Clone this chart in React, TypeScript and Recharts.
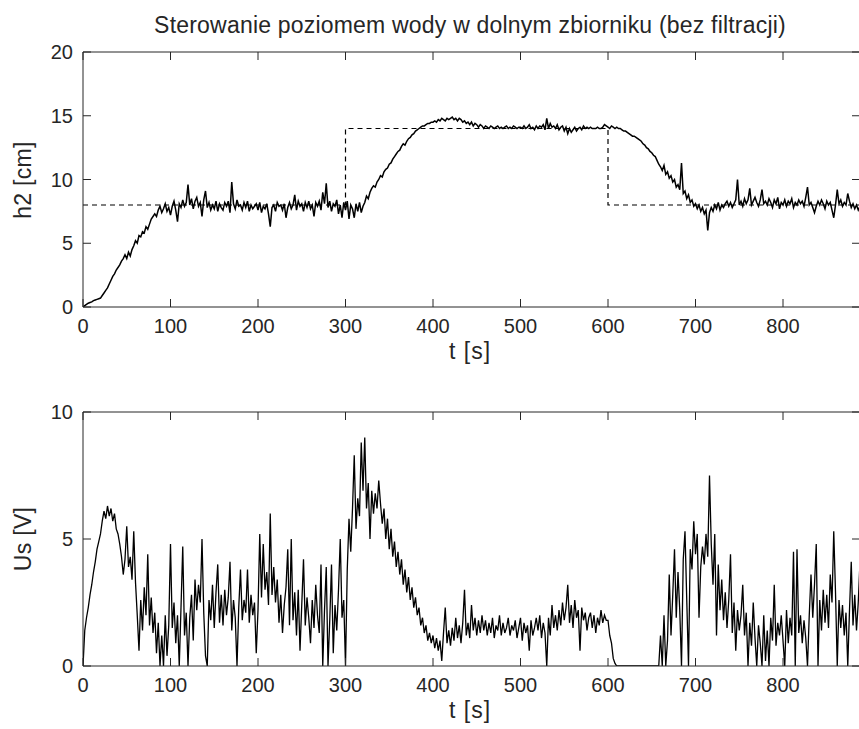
import { LineChart, Line, XAxis, YAxis } from "recharts";

// sampling period of the logged signals [s]
const T_STEP = 2;
const T_MAX = 888;

// water level h2 [cm], one value every 2 s
const h2Values = [
  0, 0.1, 0.2, 0.3, 0.35, 0.4, 0.5, 0.55, 0.6, 0.65,
  0.7, 0.9, 1.1, 1.3, 1.5, 1.8, 2.1, 2.4, 2.6, 2.9,
  3.1, 3.3, 3.6, 3.8, 4.1, 3.8, 4.3, 4.0, 4.5, 4.8,
  5.2, 5.0, 5.6, 5.5, 5.9, 5.8, 6.3, 6.1, 6.5, 6.9,
  7.1, 7.3, 7.1, 7.6, 7.9, 7.4, 7.7, 8.1, 7.5, 7.8,
  7.2, 7.9, 8.3, 7.6, 6.7, 8.1, 7.8, 8.4, 7.9, 8.2,
  9.6, 8.0, 8.5, 7.7, 8.3, 8.6, 7.9, 8.2, 7.1, 8.4,
  9.1, 7.8, 8.2, 7.6, 8.0, 7.7, 8.3, 7.5, 8.1, 7.8,
  7.6, 8.2, 7.9, 8.3, 7.4, 9.8, 8.1, 7.7, 8.4, 7.9,
  8.0, 7.6, 8.2, 7.8, 8.3, 7.5, 8.0, 7.7, 7.9, 8.1,
  7.6, 8.2, 7.4, 7.9, 7.7, 8.1, 7.3, 6.3, 7.8, 8.0,
  7.5, 8.2, 7.9, 8.0, 7.6, 8.1, 7.0, 7.8, 8.2, 7.7,
  8.0, 8.8, 7.6, 8.3, 7.9, 8.1, 7.5, 8.2, 7.8, 8.3,
  7.7, 8.0, 7.1, 8.2, 7.9, 8.3, 7.6, 9.0, 8.1, 9.7,
  7.8, 8.3, 7.5, 8.1, 7.9, 8.4, 7.3, 8.0, 7.0, 8.2,
  7.6, 8.3, 6.9, 8.0, 7.7, 7.0, 8.1, 7.5, 8.2, 7.4,
  7.9, 8.2, 8.7, 8.5, 9.0, 9.3, 9.5, 9.4, 9.8, 10.0,
  10.3, 10.2, 10.6, 10.8, 10.9, 11.2, 11.3, 11.6, 11.8, 12.0,
  12.2, 12.3, 12.6, 12.8, 12.7, 13.0, 13.2, 13.3, 13.5, 13.6,
  13.8, 13.9, 14.0, 14.1, 14.2, 14.2, 14.3, 14.4, 14.4, 14.5,
  14.5, 14.6, 14.5, 14.7, 14.6, 14.8, 14.7, 14.6, 14.8, 14.7,
  14.8, 14.9, 14.7, 14.8, 14.6, 14.8, 14.7, 14.5, 14.6, 14.4,
  14.5, 14.3, 14.5, 14.2, 14.4, 14.3, 14.1, 14.3, 14.2, 14.0,
  14.2, 14.1, 14.0, 14.2, 14.1, 14.0, 14.1, 14.2, 14.0, 14.1,
  14.0, 14.1, 14.2, 14.0, 14.1, 14.0, 14.2, 14.1, 14.0, 14.1,
  14.1, 14.0, 14.2, 14.0, 14.1, 14.3, 14.0, 14.1, 13.9, 14.2,
  14.0, 14.2, 14.1, 14.3, 13.9, 14.8, 14.0, 14.4, 14.1, 14.2,
  14.0, 14.3, 13.9, 14.1, 14.2, 13.8, 14.1, 13.6, 14.0, 13.7,
  13.9, 14.1, 13.8, 14.0, 14.1, 13.9, 14.2, 14.0, 14.1, 14.0,
  14.1, 14.0, 14.0, 14.0, 14.1, 14.0, 14.0, 14.1, 14.3, 14.2,
  14.1, 14.0, 14.2, 14.1, 14.0, 14.1, 14.0, 14.0, 13.9, 13.8,
  13.8, 13.7, 13.6, 13.5, 13.4, 13.4, 13.3, 13.2, 13.1, 13.0,
  12.8, 12.7, 12.5, 12.4, 12.2, 12.1, 11.9, 11.8, 11.5, 11.2,
  11.0, 10.7, 11.1, 10.4, 10.6, 10.1, 10.3, 9.8, 10.0, 9.4,
  9.6, 9.2, 11.3, 8.9, 9.1, 8.5, 8.8, 8.2, 8.4, 7.9,
  8.1, 7.7, 8.0, 7.5, 7.8, 7.3, 7.6, 6.0, 7.4, 7.8,
  7.5, 8.0, 7.7, 8.2, 7.6, 8.0, 7.8, 8.1, 8.3, 7.9,
  8.2, 7.8, 8.1, 8.4, 10.0, 8.0, 8.3, 7.9, 8.5, 8.1,
  8.4, 9.3, 8.0, 8.3, 8.6, 8.2, 7.9, 8.4, 9.2, 8.1,
  8.3, 8.0, 8.5, 8.2, 7.8, 8.4, 8.1, 8.6, 7.7, 8.2,
  8.0, 8.4, 7.9, 8.3, 8.1, 8.5, 7.8, 8.2, 8.0, 8.4,
  8.1, 8.3, 7.9, 8.6, 9.4, 8.0, 8.2, 7.8, 7.4, 7.9,
  8.3, 8.0, 8.4, 8.1, 7.7, 8.3, 8.0, 8.2, 7.6, 7.0,
  8.0, 9.2, 8.1, 8.4, 7.9, 8.2, 8.0, 8.9, 8.3, 7.8,
  8.1, 7.7, 8.0, 7.6, 7.9,
];

// control voltage Us [V], one value every 2 s
const usValues = [
  0, 1.4, 1.9, 2.3, 2.8, 3.2, 3.7, 4.1, 4.6, 4.9,
  5.2, 5.7, 6.1, 5.8, 6.3, 5.9, 6.2, 5.7, 6.0, 5.4,
  5.2, 4.8, 4.3, 3.6, 4.2, 5.5, 3.9, 4.3, 3.4, 5.3,
  3.3, 2.0, 0.6, 2.6, 1.4, 3.1, 2.0, 4.4, 1.6, 2.7,
  1.3, 2.1, 0.5, 1.7, 0, 1.2, 0, 2.0, 0.4, 1.6,
  4.8, 1.5, 2.5, 0.9, 2.0, 0, 2.3, 4.7, 1.2, 2.1,
  0, 1.9, 2.8, 1.0, 3.4, 2.2, 3.2, 2.5, 5.0, 2.1,
  0.4, 0, 2.6, 1.8, 3.2, 1.5, 2.9, 4.0, 1.7, 2.8,
  1.6, 3.0, 2.0, 2.7, 4.1, 1.4, 2.6, 1.9, 0, 2.3,
  3.8, 1.8, 2.6, 2.1, 3.8, 1.7, 2.8, 2.0, 2.5, 0.5,
  2.2, 5.2, 2.7, 4.8, 3.0, 3.7, 2.4, 6.0, 2.8, 3.9,
  2.5, 3.4, 1.7, 2.8, 1.3, 2.4, 3.1, 4.6, 1.6, 5.0,
  1.8, 2.9, 1.2, 3.0, 0.6, 2.4, 4.2, 1.6, 2.7, 1.9,
  0.9, 2.6, 1.5, 3.2, 2.0, 1.3, 4.0, 0, 2.2, 3.9,
  0, 1.8, 4.0, 0.5, 2.4, 1.4, 3.0, 5.0, 1.9, 2.6,
  0, 3.8, 5.8, 4.5, 6.2, 8.3, 5.4, 6.6, 5.9, 8.8,
  6.9, 9.0, 6.2, 7.2, 5.0, 6.9, 6.0, 6.8, 6.2, 7.3,
  6.4, 5.6, 6.2, 5.0, 5.8, 4.6, 5.4, 4.3, 4.9, 3.9,
  4.5, 3.6, 4.2, 3.2, 3.8, 2.9, 3.5, 2.6, 3.1, 2.3,
  2.7, 2.0, 2.3, 1.6, 1.9, 1.3, 1.6, 1.0, 1.3, 0.9,
  1.2, 0.7, 1.1, 0.6, 1.0, 0.2, 1.3, 2.3, 0.9, 1.4,
  0.8, 1.5, 1.0, 1.9, 1.1, 1.6, 0.9, 1.7, 3.0, 1.2,
  1.7, 1.1, 2.4, 1.4, 1.9, 1.2, 1.8, 1.3, 2.0, 1.4,
  1.8, 1.2, 1.7, 1.3, 1.9, 1.1, 1.6, 1.4, 2.0, 1.2,
  1.7, 1.3, 1.5, 1.9, 1.2, 1.6, 1.4, 1.8, 1.1, 1.5,
  1.9, 1.0, 1.7, 1.3, 1.6, 0.6, 1.8, 1.2, 1.5, 1.9,
  1.4, 2.0, 1.1, 1.7, 1.3, 0, 1.9, 1.2, 2.4, 1.5,
  2.0, 1.4, 2.2, 1.6, 2.5, 1.8, 2.3, 3.2, 1.7, 2.4,
  1.5, 2.6, 1.9, 2.2, 0.6, 2.3, 1.8, 2.1, 1.4, 1.9,
  2.1, 1.5, 2.0, 1.3, 1.9, 1.6, 2.2, 1.7, 2.0, 1.8,
  1.8, 1.2, 0.9, 0.3, 0.1, 0, 0, 0, 0, 0,
  0, 0, 0, 0, 0, 0, 0, 0, 0, 0,
  0, 0, 0, 0, 0, 0, 0, 0, 0, 0,
  1.2, 0, 2.0, 0, 1.0, 3.6, 1.2, 2.8, 4.6, 1.9,
  3.7, 2.2, 0, 4.2, 5.3, 2.6, 0, 4.6, 3.8, 5.7,
  4.4, 5.2, 1.9, 3.9, 4.7, 4.0, 5.2, 4.3, 7.5, 4.8,
  3.2, 5.2, 1.2, 4.0, 2.2, 3.4, 1.8, 2.9, 1.5, 2.6,
  4.4, 1.3, 2.5, 0.6, 2.2, 1.4, 2.0, 3.2, 1.2, 2.1,
  0, 1.7, 0.8, 2.5, 1.1, 0, 1.6, 0.9, 0, 2.0,
  0.2, 1.4, 0, 1.9, 1.0, 3.2, 0.8, 1.7, 1.2, 2.0,
  1.0, 0, 2.2, 0.9, 1.9, 1.2, 4.5, 0, 4.6, 1.3,
  2.0, 0.9, 1.8, 1.1, 0, 2.0, 3.6, 1.9, 3.2, 4.8,
  0, 2.6, 1.4, 3.0, 1.7, 2.8, 1.5, 3.6, 2.5, 5.3,
  2.9, 0, 2.6, 1.5, 2.4, 1.2, 2.1, 0, 2.2, 4.1,
  1.6, 2.8, 1.4, 2.5, 4.1,
];

// setpoint for h2 (dashed step line)
const setpointTimes = [0, 300, 600, 888];
const setpointValues = [8, 14, 8, 8];

const xTicks = [0, 100, 200, 300, 400, 500, 600, 700, 800];
const h2Ticks = [0, 5, 10, 15, 20];
const usTicks = [0, 5, 10];

const h2Data = h2Values.map((v, i) => ({ t: i * T_STEP, v }));
const usData = usValues.map((v, i) => ({ t: i * T_STEP, v }));
const setpointData = setpointTimes.map((t, i) => ({ t, v: setpointValues[i] }));

const FONT = '"Liberation Sans", Arial, Helvetica, sans-serif';
const INK = "#262626";
const tickStyle = { fontSize: 20, fill: INK, fontFamily: FONT };
const noLabel = () => "";

const labelText = {
  fontFamily: FONT,
  fontSize: 23,
  lineHeight: 1,
  color: INK,
  whiteSpace: "nowrap" as const,
  letterSpacing: 0.3,
};

type Point = { t: number; v: number };

interface PanelProps {
  top: number;
  bottomMargin: number;
  series: Point[];
  setpoint?: Point[];
  yMax: number;
  yTicks: number[];
  yLabel: string;
  strokeWidth: number;
}

function Panel({ top, bottomMargin, series, setpoint, yMax, yTicks, yLabel, strokeWidth }: PanelProps) {
  const plotTop = 52;
  const plotBottom = 370 - bottomMargin - 40;
  return (
    <div style={{ position: "absolute", left: 0, top, width: 870, height: 370 }}>
      <LineChart width={870} height={370} margin={{ top: 42, right: 0, bottom: bottomMargin, left: 43 }}>
        <XAxis
          xAxisId="bottom"
          type="number"
          dataKey="t"
          domain={[0, T_MAX]}
          ticks={xTicks}
          interval={0}
          allowDataOverflow
          height={40}
          tickSize={-8}
          tickMargin={20}
          stroke={INK}
          tick={tickStyle}
        />
        <XAxis
          xAxisId="top"
          orientation="top"
          type="number"
          dataKey="t"
          domain={[0, T_MAX]}
          ticks={xTicks}
          interval={0}
          allowDataOverflow
          height={10}
          tickSize={-8}
          stroke={INK}
          tickFormatter={noLabel}
        />
        <YAxis
          yAxisId="left"
          type="number"
          domain={[0, yMax]}
          ticks={yTicks}
          interval={0}
          allowDataOverflow
          width={40}
          tickSize={-8}
          tickMargin={18}
          stroke={INK}
          tick={tickStyle}
        />
        <YAxis
          yAxisId="right"
          orientation="right"
          type="number"
          domain={[0, yMax]}
          ticks={yTicks}
          interval={0}
          allowDataOverflow
          width={10}
          tickSize={-8}
          stroke={INK}
          tickFormatter={noLabel}
        />
        {setpoint && (
          <Line
            xAxisId="top"
            yAxisId="right"
            data={setpoint}
            dataKey="v"
            type="stepAfter"
            stroke="#000"
            strokeWidth={1.2}
            strokeDasharray="5 4"
            dot={false}
            isAnimationActive={false}
          />
        )}
        <Line
          xAxisId="bottom"
          yAxisId="left"
          data={series}
          dataKey="v"
          type="linear"
          stroke="#000"
          strokeWidth={strokeWidth}
          dot={false}
          isAnimationActive={false}
        />
      </LineChart>
      <div
        style={{
          ...labelText,
          position: "absolute",
          left: 23,
          top: (plotTop + plotBottom) / 2,
          transform: "translate(-50%, -50%) rotate(-90deg)",
        }}
      >
        {yLabel}
      </div>
      <div
        style={{
          ...labelText,
          position: "absolute",
          left: 470,
          top: plotBottom + 44,
          transform: "translate(-50%, -50%)",
          letterSpacing: 1,
        }}
      >
        t [s]
      </div>
    </div>
  );
}

export default function App() {
  return (
    <div
      style={{
        position: "fixed",
        left: 0,
        top: 0,
        width: 859,
        height: 729,
        overflow: "hidden",
        background: "#fff",
      }}
    >
      <div
        style={{
          ...labelText,
          position: "absolute",
          left: 470,
          top: 25,
          transform: "translate(-50%, -50%)",
          letterSpacing: 0.2,
        }}
      >
        Sterowanie poziomem wody w dolnym zbiorniku (bez filtracji)
      </div>
      <Panel
        top={0}
        bottomMargin={23}
        series={h2Data}
        setpoint={setpointData}
        yMax={20}
        yTicks={h2Ticks}
        yLabel="h2 [cm]"
        strokeWidth={1.5}
      />
      <Panel
        top={360}
        bottomMargin={24}
        series={usData}
        yMax={10}
        yTicks={usTicks}
        yLabel="Us [V]"
        strokeWidth={1.3}
      />
    </div>
  );
}
